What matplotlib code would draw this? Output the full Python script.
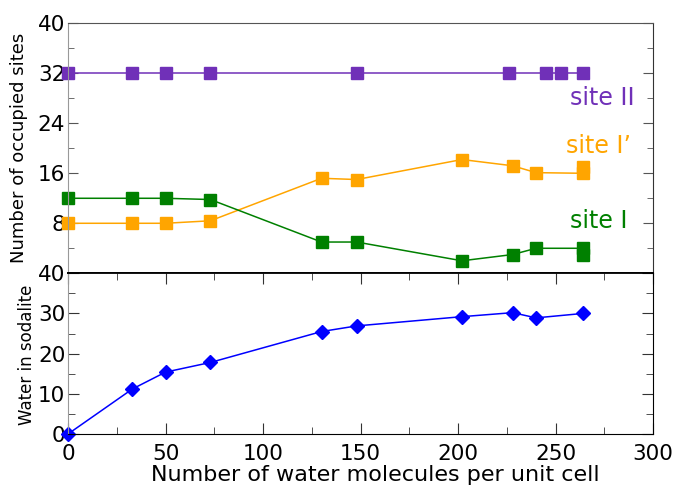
import matplotlib
matplotlib.use("Agg")
import matplotlib.pyplot as plt
from matplotlib.ticker import MultipleLocator

plt.rcParams['font.family'] = ['DejaVu Sans']

# Data
x_site2 = [0, 33, 50, 73, 148, 226, 245, 253, 264]
site2 = [32, 32, 32, 32, 32, 32, 32, 32, 32]
x_sites = [0, 33, 50, 73, 130, 148, 202, 228, 240, 264]
site1p = [8, 8, 8, 8.4, 15.2, 15.0, 18.2, 17.2, 16.1, 16]
site1 = [12, 12, 12, 11.8, 5, 5, 2, 3, 4, 4]
extra_x = [264]
extra_site1p = [17]
extra_site1 = [3]
water = [0, 11.2, 15.4, 17.8, 25.5, 26.9, 29.2, 30.2, 28.9, 30.0]

c_purple = '#7030b8'
c_orange = '#ffa500'
c_green = '#008000'
c_blue = '#0000ff'

fig = plt.figure(figsize=(6.79, 4.88), dpi=100)
ax1 = fig.add_axes([0.1002, 0.44, 0.8616, 0.5123])
ax2 = fig.add_axes([0.1002, 0.1107, 0.8616, 0.3293])

ms = 8.5
ax1.plot(x_site2, site2, '-s', color=c_purple, ms=ms, lw=1.1)
ax1.plot(x_sites, site1p, '-s', color=c_orange, ms=ms, lw=1.1)
ax1.plot(x_sites, site1, '-s', color=c_green, ms=ms, lw=1.1)
ax1.plot(extra_x, extra_site1p, 's', color=c_orange, ms=ms)
ax1.plot(extra_x, extra_site1, 's', color=c_green, ms=ms)

ax1.set_xlim(0, 300)
ax1.set_ylim(0, 40)
ax1.yaxis.set_minor_locator(MultipleLocator(4))
ax1.set_yticks([8, 16, 24, 32, 40])
ax1.set_xticks([])
ax1.tick_params(axis='y', which='both', direction='in', right=True, labelsize=15.5,
                colors='#555555', labelcolor='black', pad=2)
ax1.tick_params(axis='y', which='major', length=7)
ax1.tick_params(axis='y', which='minor', length=4)
ax1.spines['left'].set_color('#999999')
ax1.spines['top'].set_color('#555555')
ax1.spines['right'].set_color('#333333')
ax1.spines['bottom'].set_color('black')
ax1.spines['bottom'].set_linewidth(1.3)
ax1.set_ylabel('Number of occupied sites', fontsize=13)
ax1.yaxis.set_label_coords(-0.068, 0.5)

ax1.text(290.8, 26.9, 'site II', color=c_purple, fontsize=17, ha='right', va='baseline')
ax1.text(288.5, 19.2, "site I\u2019", color=c_orange, fontsize=17, ha='right', va='baseline')
ax1.text(286.8, 7.2, 'site I', color=c_green, fontsize=17, ha='right', va='baseline')

ax2.plot(x_sites, water, '-D', color=c_blue, ms=7.5, lw=1.1, markeredgecolor=c_blue)
ax2.set_xlim(0, 300)
ax2.set_ylim(0, 40)
ax2.xaxis.set_major_locator(MultipleLocator(50))
ax2.xaxis.set_minor_locator(MultipleLocator(25))
ax2.yaxis.set_major_locator(MultipleLocator(10))
ax2.yaxis.set_minor_locator(MultipleLocator(5))
ax2.tick_params(axis='both', which='both', direction='in', top=True, right=True,
                labelsize=15.5, colors='#333333', labelcolor='black')
ax2.tick_params(axis='both', which='major', length=8)
ax2.tick_params(axis='both', which='minor', length=5)
ax2.tick_params(axis='x', pad=7)
ax2.tick_params(axis='y', pad=2)
ax2.spines['left'].set_color('#999999')
ax2.spines['top'].set_linewidth(1.3)
ax2.set_xlabel('Number of water molecules per unit cell', fontsize=16)
ax2.xaxis.set_label_coords(0.525, -0.19)
ax2.set_ylabel('Water in sodalite', fontsize=12)
ax2.yaxis.set_label_coords(-0.055, 0.49)
for ax in (ax1, ax2):
    for l in ax.lines:
        l.set_clip_on(False)

fig.savefig('out.png', dpi=100)
